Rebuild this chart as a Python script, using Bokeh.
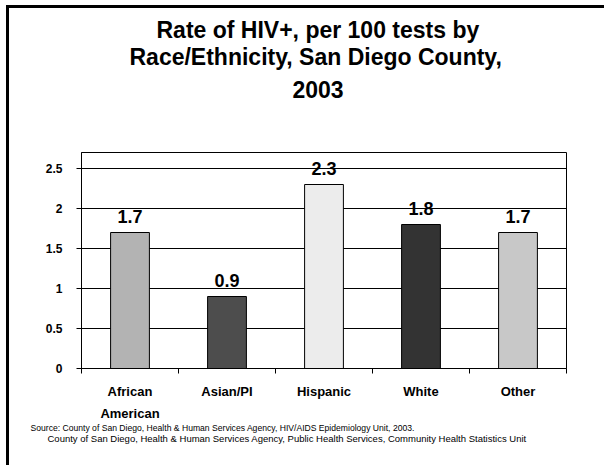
from bokeh.plotting import figure
from bokeh.models import FixedTicker, LabelSet, ColumnDataSource, Title, Range1d
from bokeh.core.properties import value
from bokeh.embed import file_html
from bokeh.resources import INLINE

# ---- data ----
categories = ["African\nAmerican", "Asian/PI", "Hispanic", "White", "Other"]
rates = [1.7, 0.9, 2.3, 1.8, 1.7]
bar_colors = ["#b3b3b3", "#4d4d4d", "#ececec", "#333333", "#c8c8c8"]
y_ticks = [0, 0.5, 1, 1.5, 2, 2.5]
y_tick_labels = ["0", "0.5", "1", "1.5", "2", "2.5"]
title_lines = ["Rate of HIV+, per 100 tests by",
               "Race/Ethnicity, San Diego County,",
               "2003"]
source_lines = [
    "Source: County of San Diego, Health & Human Services Agency, HIV/AIDS Epidemiology Unit, 2003.",
    "County of San Diego, Health & Human Services Agency, Public Health Services, Community Health Statistics Unit",
]

FONT = "Liberation Sans"

centers = [i + 0.5 for i in range(len(categories))]
boundaries = list(range(len(categories) + 1))
src = ColumnDataSource(dict(x=centers, top=rates, color=bar_colors,
                            label=[f"{r:.1f}" for r in rates]))

p = figure(frame_width=485, frame_height=216,
           min_border_left=72, min_border_right=38, min_border_top=144, min_border_bottom=97,
           x_range=Range1d(0, len(categories)), y_range=Range1d(0, 2.7),
           title=title_lines[0], output_backend="svg", toolbar_location=None)
p.styles = {"margin-left": "6px", "margin-top": "5px",
            "border-left": "3px solid black", "border-top": "3px solid black"}

title_offsets = [75, 48, 211]

def style_title(t, off, standoff):
    t.align = "left"
    t.offset = off
    t.text_font = FONT
    t.text_font_size = "23px"
    t.text_font_style = "bold"
    t.text_color = "black"
    t.standoff = standoff

# stack (closest to the frame first): spacer, line 3, line 2; main title (line 1) is outermost
spacer = Title(text=" ")
style_title(spacer, 0, 24.5)
p.add_layout(spacer, "above")
style_title(p.title, title_offsets[0], -18)
for line, off, so in [(title_lines[2], title_offsets[2], 3), (title_lines[1], title_offsets[1], 16)]:
    t = Title(text=line)
    style_title(t, off, so)
    p.add_layout(t, "above")

p.vbar(x="x", top="top", width=0.4, source=src, fill_color="color",
       line_color="black", line_width=1)

labels = LabelSet(x="x", y="top", text="label", source=src, y_offset=10,
                  text_align="center", text_baseline="alphabetic",
                  text_font=value(FONT), text_font_size="18px", text_font_style="bold",
                  text_color="black")
p.add_layout(labels)

# axes
p.xaxis.ticker = FixedTicker(ticks=centers, minor_ticks=boundaries)
p.xaxis.major_label_overrides = {c: lab for c, lab in zip(centers, categories)}
p.xaxis.major_tick_out = 0
p.xaxis.major_tick_in = 0
p.xaxis.minor_tick_out = 5
p.xaxis.minor_tick_in = 0
p.xaxis.minor_tick_line_color = "black"
p.xaxis.major_label_standoff = 10
p.xaxis.major_label_text_font = FONT
p.xaxis.major_label_text_font_size = "13px"
p.xaxis.major_label_text_font_style = "bold"
p.xaxis.major_label_text_color = "black"
p.xaxis.major_label_text_line_height = 1.5

p.yaxis.ticker = FixedTicker(ticks=y_ticks)
p.yaxis.major_label_overrides = {t: s for t, s in zip(y_ticks, y_tick_labels)}
p.yaxis.major_tick_out = 5
p.yaxis.major_tick_in = 0
p.yaxis.minor_tick_line_color = None
p.yaxis.major_label_standoff = 14
p.yaxis.major_label_text_font = FONT
p.yaxis.major_label_text_font_size = "12px"
p.yaxis.major_label_text_font_style = "bold"
p.yaxis.major_label_text_color = "black"

for ax in (p.xaxis, p.yaxis):
    ax.axis_line_color = "black"
    ax.axis_line_width = 1
    ax.major_tick_line_color = "black"

p.xgrid.visible = False
p.ygrid.ticker = FixedTicker(ticks=y_ticks)
p.ygrid.grid_line_color = "black"
p.ygrid.grid_line_width = 1

p.outline_line_color = "black"
p.outline_line_width = 1
p.background_fill_color = "white"
p.border_fill_color = "white"

# footer
for line, off, size, so in zip(source_lines, [-51, -34], ["8.6px", "9.5px"], [-7, 3]):
    p.add_layout(Title(text=line, align="left", offset=off, text_font=FONT,
                       text_font_size=size, text_font_style="normal",
                       text_color="black", standoff=so), "below")

open("out.html", "w").write(file_html(p, INLINE))
